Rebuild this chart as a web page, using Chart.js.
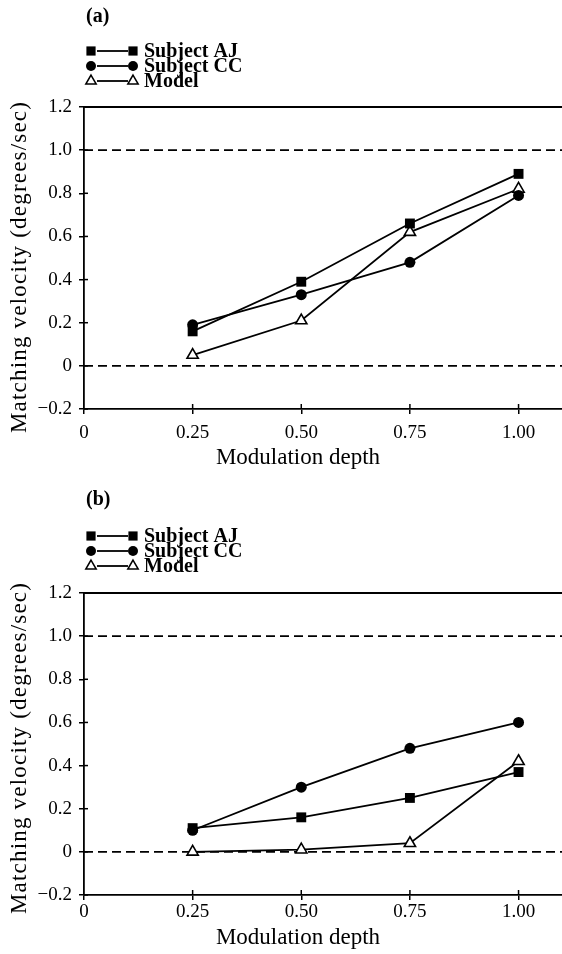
<!DOCTYPE html>
<html>
<head>
<meta charset="utf-8">
<script src="https://cdn.jsdelivr.net/npm/chart.js@4.4.0/dist/chart.umd.min.js"></script>
<style>
  html, body { margin: 0; padding: 0; background: #fff; }
  canvas { display: block; }
</style>
</head>
<body>
<canvas id="chartA" width="562" height="478"></canvas>
<canvas id="chartB" width="562" height="476"></canvas>
<script>
// Modulation depths that were tested
const depths = [0.25, 0.50, 0.75, 1.00];

// Panel (a) matching velocities (degrees/sec)
const ajA = [0.16, 0.39, 0.66, 0.89];
const ccA = [0.19, 0.33, 0.48, 0.79];
const modelA = [0.05, 0.21, 0.62, 0.82];

// Panel (b) matching velocities (degrees/sec)
const ajB = [0.11, 0.16, 0.25, 0.37];
const ccB = [0.10, 0.30, 0.48, 0.60];
const modelB = [0.00, 0.01, 0.04, 0.42];

// dashed reference levels
const refLevels = [0, 1.0];

// axis ticks
const xTicks = [0, 0.25, 0.5, 0.75, 1.0];
const xTickLabels = ['0', '0.25', '0.50', '0.75', '1.00'];
const yTicks = [-0.2, 0, 0.2, 0.4, 0.6, 0.8, 1.0, 1.2];
const yTickLabels = ['\u22120.2', '0', '0.2', '0.4', '0.6', '0.8', '1.0', '1.2'];
const xMin = 0, xMax = 1.1;
const yMin = -0.2, yMax = 1.2;

const seriesNames = ['Subject AJ', 'Subject CC', 'Model'];
const seriesStyles = [
  { pointStyle: 'rect', radius: 7, fill: '#000' },
  { pointStyle: 'circle', radius: 5.5, fill: '#000' },
  { pointStyle: 'triangle', radius: 6.5, fill: '#fff' }
];

const FONT = "'Liberation Serif', 'Times New Roman', serif";

function toPoints(vals) {
  return depths.map((d, i) => ({ x: d, y: vals[i] }));
}

// Title letter, legend, axis titles, top frame line and inner tick marks
const panelDecor = {
  id: 'panelDecor',
  afterDraw(chart, args, opts) {
    const ctx = chart.ctx;
    const area = chart.chartArea;
    const xs = chart.scales.x, ys = chart.scales.y;
    ctx.save();
    ctx.strokeStyle = '#000';
    ctx.fillStyle = '#000';

    // top frame line
    ctx.lineWidth = 1.8;
    ctx.beginPath();
    ctx.moveTo(area.left, area.top);
    ctx.lineTo(area.right, area.top);
    ctx.stroke();

    // inner ticks
    ctx.lineWidth = 1.5;
    xs.ticks.forEach(t => {
      if (t.value === 0) return;
      const px = xs.getPixelForValue(t.value);
      ctx.beginPath();
      ctx.moveTo(px, area.bottom);
      ctx.lineTo(px, area.bottom - 5);
      ctx.stroke();
    });
    ys.ticks.forEach(t => {
      const py = ys.getPixelForValue(t.value);
      ctx.beginPath();
      ctx.moveTo(area.left, py);
      ctx.lineTo(area.left + 4, py);
      ctx.stroke();
    });

    // rotated y title (the scan is a bit taller than wide, so letter-spaced)
    ctx.save();
    ctx.translate(20, (area.top + area.bottom) / 2 + opts.yTitleDy);
    ctx.rotate(-Math.PI / 2);
    ctx.font = '23px ' + FONT;
    ctx.letterSpacing = '1.2px';
    ctx.textAlign = 'center';
    ctx.textBaseline = 'middle';
    ctx.fillText('Matching velocity (degrees/sec)', 0, 0);
    ctx.restore();

    // x title, centred on the figure rather than the axis
    ctx.font = '23px ' + FONT;
    ctx.textAlign = 'center';
    ctx.textBaseline = 'middle';
    ctx.fillText('Modulation depth', 298, area.bottom + opts.xTitleDy);

    // panel letter
    ctx.font = 'bold 20px ' + FONT;
    ctx.textAlign = 'left';
    ctx.fillText(opts.letter, 86, area.top + opts.letterDy);

    // legend: marker — marker  name
    seriesNames.forEach((name, i) => {
      const y = area.top + opts.legendDy + i * 15;
      const st = seriesStyles[i];
      ctx.lineWidth = 1.8;
      ctx.strokeStyle = '#000';
      ctx.beginPath();
      ctx.moveTo(97, y);
      ctx.lineTo(128, y);
      ctx.stroke();
      [91, 133].forEach(mx => {
        ctx.fillStyle = st.fill;
        ctx.lineWidth = 1.5;
        Chart.helpers.drawPoint(ctx, {
          pointStyle: st.pointStyle, radius: st.radius - 0.5, rotation: 0,
          borderWidth: st.fill === '#fff' ? 1.6 : 0
        }, mx, y);
      });
      ctx.fillStyle = '#000';
      ctx.font = 'bold 20px ' + FONT;
      ctx.fillText(name, 144, y + 1);
    });
    ctx.restore();
  }
};

function makePanel(id, letter, aj, cc, model, p) {
  const dataSets = [aj, cc, model].map((vals, i) => ({
    label: seriesNames[i],
    data: toPoints(vals),
    borderColor: '#000',
    borderWidth: 1.8,
    pointStyle: seriesStyles[i].pointStyle,
    pointRadius: seriesStyles[i].radius,
    pointBackgroundColor: seriesStyles[i].fill,
    pointBorderColor: '#000',
    pointBorderWidth: seriesStyles[i].fill === '#fff' ? 1.6 : 0,
    fill: false,
    tension: 0
  }));
  const refSets = refLevels.map(level => ({
    label: 'ref ' + level,
    data: [{ x: xMin, y: level }, { x: xMax, y: level }],
    borderColor: '#000',
    borderWidth: 1.6,
    borderDash: [9, 5],
    pointRadius: 0,
    fill: false
  }));

  return new Chart(document.getElementById(id), {
    type: 'line',
    data: { datasets: dataSets.concat(refSets) },
    plugins: [panelDecor],
    options: {
      responsive: false,
      animation: false,
      devicePixelRatio: 1,
      layout: { autoPadding: false, padding: { top: p.plotTop, left: 0, right: 0, bottom: 0 } },
      plugins: {
        legend: { display: false },
        tooltip: { enabled: false },
        panelDecor: {
          letter: letter, letterDy: p.letterDy, legendDy: p.legendDy,
          yTitleDy: p.yTitleDy, xTitleDy: p.xTitleDy
        }
      },
      scales: {
        x: {
          type: 'linear',
          min: xMin,
          max: xMax,
          afterBuildTicks: s => { s.ticks = xTicks.map(v => ({ value: v })); },
          afterFit: s => { s.height = p.xHeight; s.paddingRight = 0; s.paddingLeft = 0; },
          ticks: {
            autoSkip: false,
            maxRotation: 0,
            padding: p.xTickPad,
            color: '#000',
            font: { family: FONT, size: 19 },
            callback: (v, i) => xTickLabels[i]
          },
          grid: { drawOnChartArea: false, color: '#000', lineWidth: 1.5, tickLength: 5 },
          border: { color: '#000', width: 1.8 }
        },
        y: {
          type: 'linear',
          min: yMin,
          max: yMax,
          afterBuildTicks: s => { s.ticks = yTicks.map(v => ({ value: v })); },
          afterFit: s => { s.width = 84; },
          ticks: {
            padding: 7,
            color: '#000',
            font: { family: FONT, size: 19 },
            callback: (v, i) => yTickLabels[i]
          },
          grid: { drawOnChartArea: false, color: '#000', lineWidth: 1.5, tickLength: 5 },
          border: { color: '#000', width: 1.8 }
        }
      }
    }
  });
}

makePanel('chartA', '(a)', ajA, ccA, modelA,
  { plotTop: 107, xHeight: 69, xTickPad: 8, xTitleDy: 49, letterDy: -90, legendDy: -56, yTitleDy: 9 });
makePanel('chartB', '(b)', ajB, ccB, modelB,
  { plotTop: 115, xHeight: 59, xTickPad: 1, xTitleDy: 43, letterDy: -93, legendDy: -57, yTitleDy: 4 });
</script>
</body>
</html>
